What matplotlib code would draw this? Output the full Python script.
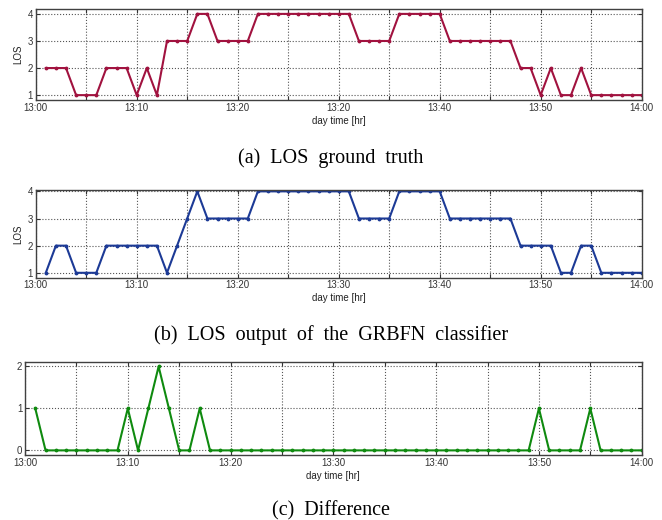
import matplotlib
matplotlib.use('Agg')
import matplotlib.pyplot as plt
import numpy as np

# minutes after 13:00
minutes = list(range(1, 61))

los_truth = [2, 2, 2, 1, 1, 1, 2, 2, 2, 1,
             2, 1, 3, 3, 3, 4, 4, 3, 3, 3,
             3, 4, 4, 4, 4, 4, 4, 4, 4, 4,
             4, 3, 3, 3, 3, 4, 4, 4, 4, 4,
             3, 3, 3, 3, 3, 3, 3, 2, 2, 1,
             2, 1, 1, 2, 1, 1, 1, 1, 1, 1]

los_grbfn = [1, 2, 2, 1, 1, 1, 2, 2, 2, 2,
             2, 2, 1, 2, 3, 4, 3, 3, 3, 3,
             3, 4, 4, 4, 4, 4, 4, 4, 4, 4,
             4, 3, 3, 3, 3, 4, 4, 4, 4, 4,
             3, 3, 3, 3, 3, 3, 3, 2, 2, 2,
             2, 1, 1, 2, 2, 1, 1, 1, 1, 1]

los_diff = [1, 0, 0, 0, 0, 0, 0, 0, 0, 1,
            0, 1, 2, 1, 0, 0, 1, 0, 0, 0,
            0, 0, 0, 0, 0, 0, 0, 0, 0, 0,
            0, 0, 0, 0, 0, 0, 0, 0, 0, 0,
            0, 0, 0, 0, 0, 0, 0, 0, 0, 1,
            0, 0, 0, 0, 1, 0, 0, 0, 0, 0]

tick_pos = [0, 10, 20, 30, 40, 50, 60]
labels_a = ['13:00', '13:10', '13:20', '13:20', '13:40', '13:50', '14:00']
labels_bc = ['13:00', '13:10', '13:20', '13:30', '13:40', '13:50', '14:00']

plt.rcParams['font.family'] = ['Liberation Sans', 'DejaVu Sans']

fig = plt.figure(figsize=(6.62, 5.2), dpi=100)

W, H = 662.0, 520.0
def box(l, t, r, b):
    return [l / W, (H - b) / H, (r - l) / W, (b - t) / H]

ax1 = fig.add_axes(box(35.7, 9.3, 641.7, 100))
ax2 = fig.add_axes(box(35.7, 190, 641.7, 277.7))
ax3 = fig.add_axes(box(25, 362.3, 641.7, 455))


def style(ax, y, color, labels, yticks, ylim, ylabel):
    ax.plot(minutes, y, color=color, lw=1.5, marker='.', ms=3.5)
    ax.set_xlim(0, 60)
    ax.set_ylim(*ylim)
    ticks = list(range(0, 61, 5))
    ax.set_xticks(ticks)
    lab = []
    for t in ticks:
        lab.append(labels[tick_pos.index(t)] if t in tick_pos else '')
    ax.set_xticklabels(lab)
    ax.set_yticks(yticks)
    ax.tick_params(labelsize=7, length=3, width=0.8, colors='#333333',
                   direction='in', top=True, right=True, pad=2)
    ax.grid(True, ls=':', color='#555555', lw=0.8)
    for s in ax.spines.values():
        s.set_color('#404040')
        s.set_linewidth(1.0)
    ax.set_xlabel('day time [hr]', fontsize=7, labelpad=2, color='#222222')
    if ylabel:
        ax.set_ylabel(ylabel, fontsize=7, labelpad=3, color='#222222')


style(ax1, los_truth, '#a1123f', labels_a, [1, 2, 3, 4], (0.82, 4.17), 'LOS')
style(ax2, los_grbfn, '#1c3a96', labels_bc, [1, 2, 3, 4], (0.82, 4.05), 'LOS')
style(ax3, los_diff, '#0f8a0f', labels_bc, [0, 1, 2], (-0.11, 2.1), None)

cap = dict(ha='center', va='center', fontsize=14.5, family='Liberation Serif')
fig.text(331 / W, 1 - 158 / H, '(a)  LOS  ground  truth', **cap)
fig.text(331 / W, 1 - 335 / H, '(b)  LOS  output  of  the  GRBFN  classifier', **cap)
fig.text(331 / W, 1 - 511 / H, '(c)  Difference', **cap)

fig.savefig('out.png', dpi=100)
